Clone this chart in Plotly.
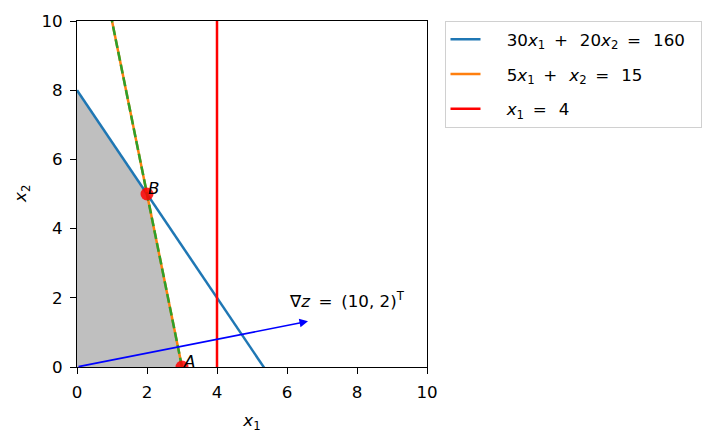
import plotly.graph_objects as go

# Constraint data: a1*x1 + a2*x2 = b
c1_a = [30, 20]
c1_b = 160
c2_a = [5, 1]
c2_b = 15
c3_x1 = 4
obj_grad = [10, 2]
obj_value = 30
arrow_scale = 0.66

feasible_x = [0, 0, 2, 3]
feasible_y = [0, 8, 5, 0]

points_x = [3, 2]
points_y = [0, 5]
points_lbl = ["A", "B"]

ticks = [0, 2, 4, 6, 8, 10]
x_range = [0, 10]

SP = "\u2009"
LEAD = "\u00a0\u00a0\u00a0\u00a0"
name1 = f"{LEAD}30<i>x</i><sub>1</sub> {SP}+{SP}{SP} 20<i>x</i><sub>2</sub> {SP}={SP}{SP} 160\u00a0\u00a0"
name2 = f"{LEAD}5<i>x</i><sub>1</sub> {SP}+{SP}{SP} <i>x</i><sub>2</sub> {SP}={SP}{SP} 15"
name3 = f"{LEAD}<i>x</i><sub>1</sub> {SP}={SP}{SP} 4"

FS = 16.7
LW = 2.5


def line_pts(a, b):
    xs = [x_range[0], x_range[1]]
    ys = [(b - a[0] * x) / a[1] for x in xs]
    return xs, ys


fig = go.Figure()

fig.add_trace(go.Scatter(x=feasible_x + [feasible_x[0]], y=feasible_y + [feasible_y[0]],
                         fill="toself", fillcolor="#bfbfbf", line=dict(width=0),
                         mode="lines", showlegend=False, hoverinfo="skip"))

xs, ys = line_pts(c1_a, c1_b)
fig.add_trace(go.Scatter(x=xs, y=ys, mode="lines", name=name1, legendgroup="g1",
                         line=dict(color="#1f77b4", width=LW)))
xs, ys = line_pts(c2_a, c2_b)
fig.add_trace(go.Scatter(x=xs, y=ys, mode="lines", name=name2, legendgroup="g2",
                         line=dict(color="#ff7f0e", width=LW)))
fig.add_trace(go.Scatter(x=[c3_x1, c3_x1], y=x_range, mode="lines", name=name3, legendgroup="g3",
                         line=dict(color="#ff0000", width=LW)))

# objective contour through optimum
gx, gy = line_pts(obj_grad, obj_value)
fig.add_trace(go.Scatter(x=gx, y=gy, mode="lines", showlegend=False,
                         line=dict(color="#2ca02c", width=LW, dash="9px,4px")))

fig.add_trace(go.Scatter(x=points_x, y=points_y, mode="markers", showlegend=False,
                         marker=dict(color="#ff0000", size=13, opacity=0.85), cliponaxis=True))

for px, py, lbl in zip(points_x, points_y, points_lbl):
    fig.add_annotation(x=px, y=py, text=f"<i>{lbl}</i>", showarrow=False,
                       xanchor="left", yanchor="bottom", xshift=-1, yshift=-6,
                       font=dict(size=FS, color="black"))

fig.add_annotation(x=obj_grad[0] * arrow_scale, y=obj_grad[1] * arrow_scale,
                   ax=0, ay=0, axref="x", ayref="y", xref="x", yref="y",
                   showarrow=True, arrowhead=2, arrowsize=1, arrowwidth=1.7,
                   arrowcolor="#0000ff", text="")
fig.add_annotation(x=6, y=1.55, text=f"∇<i>z</i> {SP}={SP} (10, 2)<sup>T</sup>", showarrow=False,
                   xanchor="left", yanchor="bottom", font=dict(size=FS, color="black"))

# y-axis title as annotation for precise placement
fig.add_annotation(x=-0.16, y=0.5, xref="paper", yref="paper", text="<i>x</i><sub>2</sub>",
                   textangle=-90, showarrow=False, xanchor="center", yanchor="middle",
                   font=dict(size=FS, color="black"))

axis_common = dict(range=x_range, tickvals=ticks, ticks="outside", ticklen=6,
                   tickcolor="black", showline=True, linecolor="black", linewidth=1,
                   mirror=True, showgrid=False, zeroline=False,
                   tickfont=dict(size=FS, color="black"))

fig.update_xaxes(**axis_common, ticklabelstandoff=4,
                 title=dict(text="<i>x</i><sub>1</sub>", font=dict(size=FS, color="black"), standoff=13))
fig.update_yaxes(**axis_common, ticklabelstandoff=4)

fig.update_layout(
    width=716, height=430,
    margin=dict(l=69, r=297, t=13, b=71, autoexpand=False),
    plot_bgcolor="white", paper_bgcolor="white",
    font=dict(family="DejaVu Sans", size=FS, color="black"),
    legend=dict(x=1.05, y=1.0, xanchor="left", yanchor="top",
                bordercolor="#d0d0d0", borderwidth=1, font=dict(size=FS),
                tracegroupgap=10),
)

fig.write_html("out.html")
